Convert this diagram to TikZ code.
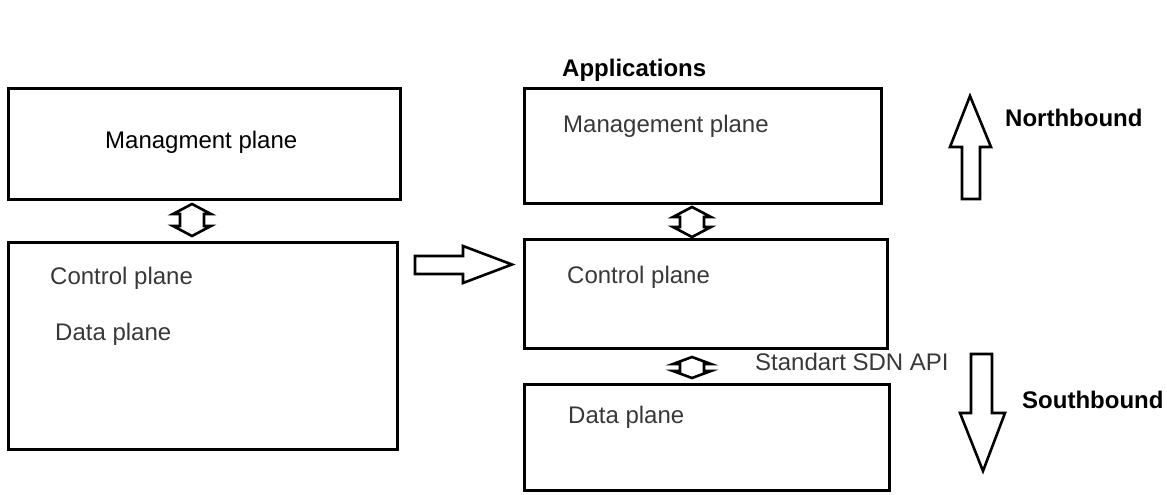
\documentclass[tikz,border=0pt]{standalone}
\usepackage{fontspec}
\setmainfont{Liberation Sans}
\begin{document}
\begin{tikzpicture}[x=1pt, y=-1pt,
  plane/.style={draw, line width=3pt, inner sep=0pt},
  txt/.style={font=\fontsize{24}{28}\selectfont, text=black!78, inner sep=0pt, anchor=west},
  bold/.style={font=\fontsize{24}{28}\selectfont\bfseries, inner sep=0pt, anchor=west},
  hollow/.style={draw, line width=2.6pt, line join=miter, fill=white},
  pics/updown/.style 2 args={code={
    \draw[hollow] (0,-#1) -- (19,-#1+#2) -- (12,-#1+#2) -- (12,#1-#2) -- (19,#1-#2)
      -- (0,#1) -- (-19,#1-#2) -- (-12,#1-#2) -- (-12,-#1+#2) -- (-19,-#1+#2) -- cycle;
  }}]
  \useasboundingbox (0,0) rectangle (1167,495);
  % traditional network
  \node[plane, minimum width=392pt, minimum height=111pt] (mgmtL) at (204,143.5) {};
  \node[plane, minimum width=389pt, minimum height=207pt] (ctrlL) at (202.5,345.5) {};
  \node[txt, text=black] (mgmtLtxt) at (105,142) {Managment plane};
  \node[txt] (ctrlLtxt) at (50,278) {Control plane};
  \node[txt] (dataLtxt) at (55,334) {Data plane};
  \pic at (192,220) {updown={16}{10}};
  % transition
  \draw[hollow] (415,256) -- (463,256) -- (463,246) -- (512,264.5) -- (463,283)
    -- (463,274) -- (415,274) -- cycle;
  % SDN
  \node[bold] (apps) at (562,70) {Applications};
  \node[plane, minimum width=357pt, minimum height=115pt] (mgmtR) at (702.5,145.5) {};
  \node[plane, minimum width=363pt, minimum height=109pt] (ctrlR) at (705.5,293.5) {};
  \node[plane, minimum width=365pt, minimum height=106pt] (dataR) at (706.5,437) {};
  \node[txt] (mgmtRtxt) at (563,126) {Management plane};
  \node[txt] (ctrlRtxt) at (567,277) {Control plane};
  \node[txt] (dataRtxt) at (568,417) {Data plane};
  \pic at (692,222) {updown={15}{10}};
  \pic at (692,367.5) {updown={10.5}{7}};
  \node[txt] (api) at (755,362) {Standart SDN API};
  % interfaces
  \draw[hollow] (970,96) -- (991,147) -- (980,147) -- (980,199) -- (962,199)
    -- (962,147) -- (950,147) -- cycle;
  \node[bold] (north) at (1005,118) {Northbound};
  \draw[hollow] (971,354) -- (992,354) -- (992,413) -- (1005,413) -- (983,471)
    -- (960,413) -- (971,413) -- cycle;
  \node[bold] (south) at (1022,400) {Southbound};
\end{tikzpicture}
\end{document}
